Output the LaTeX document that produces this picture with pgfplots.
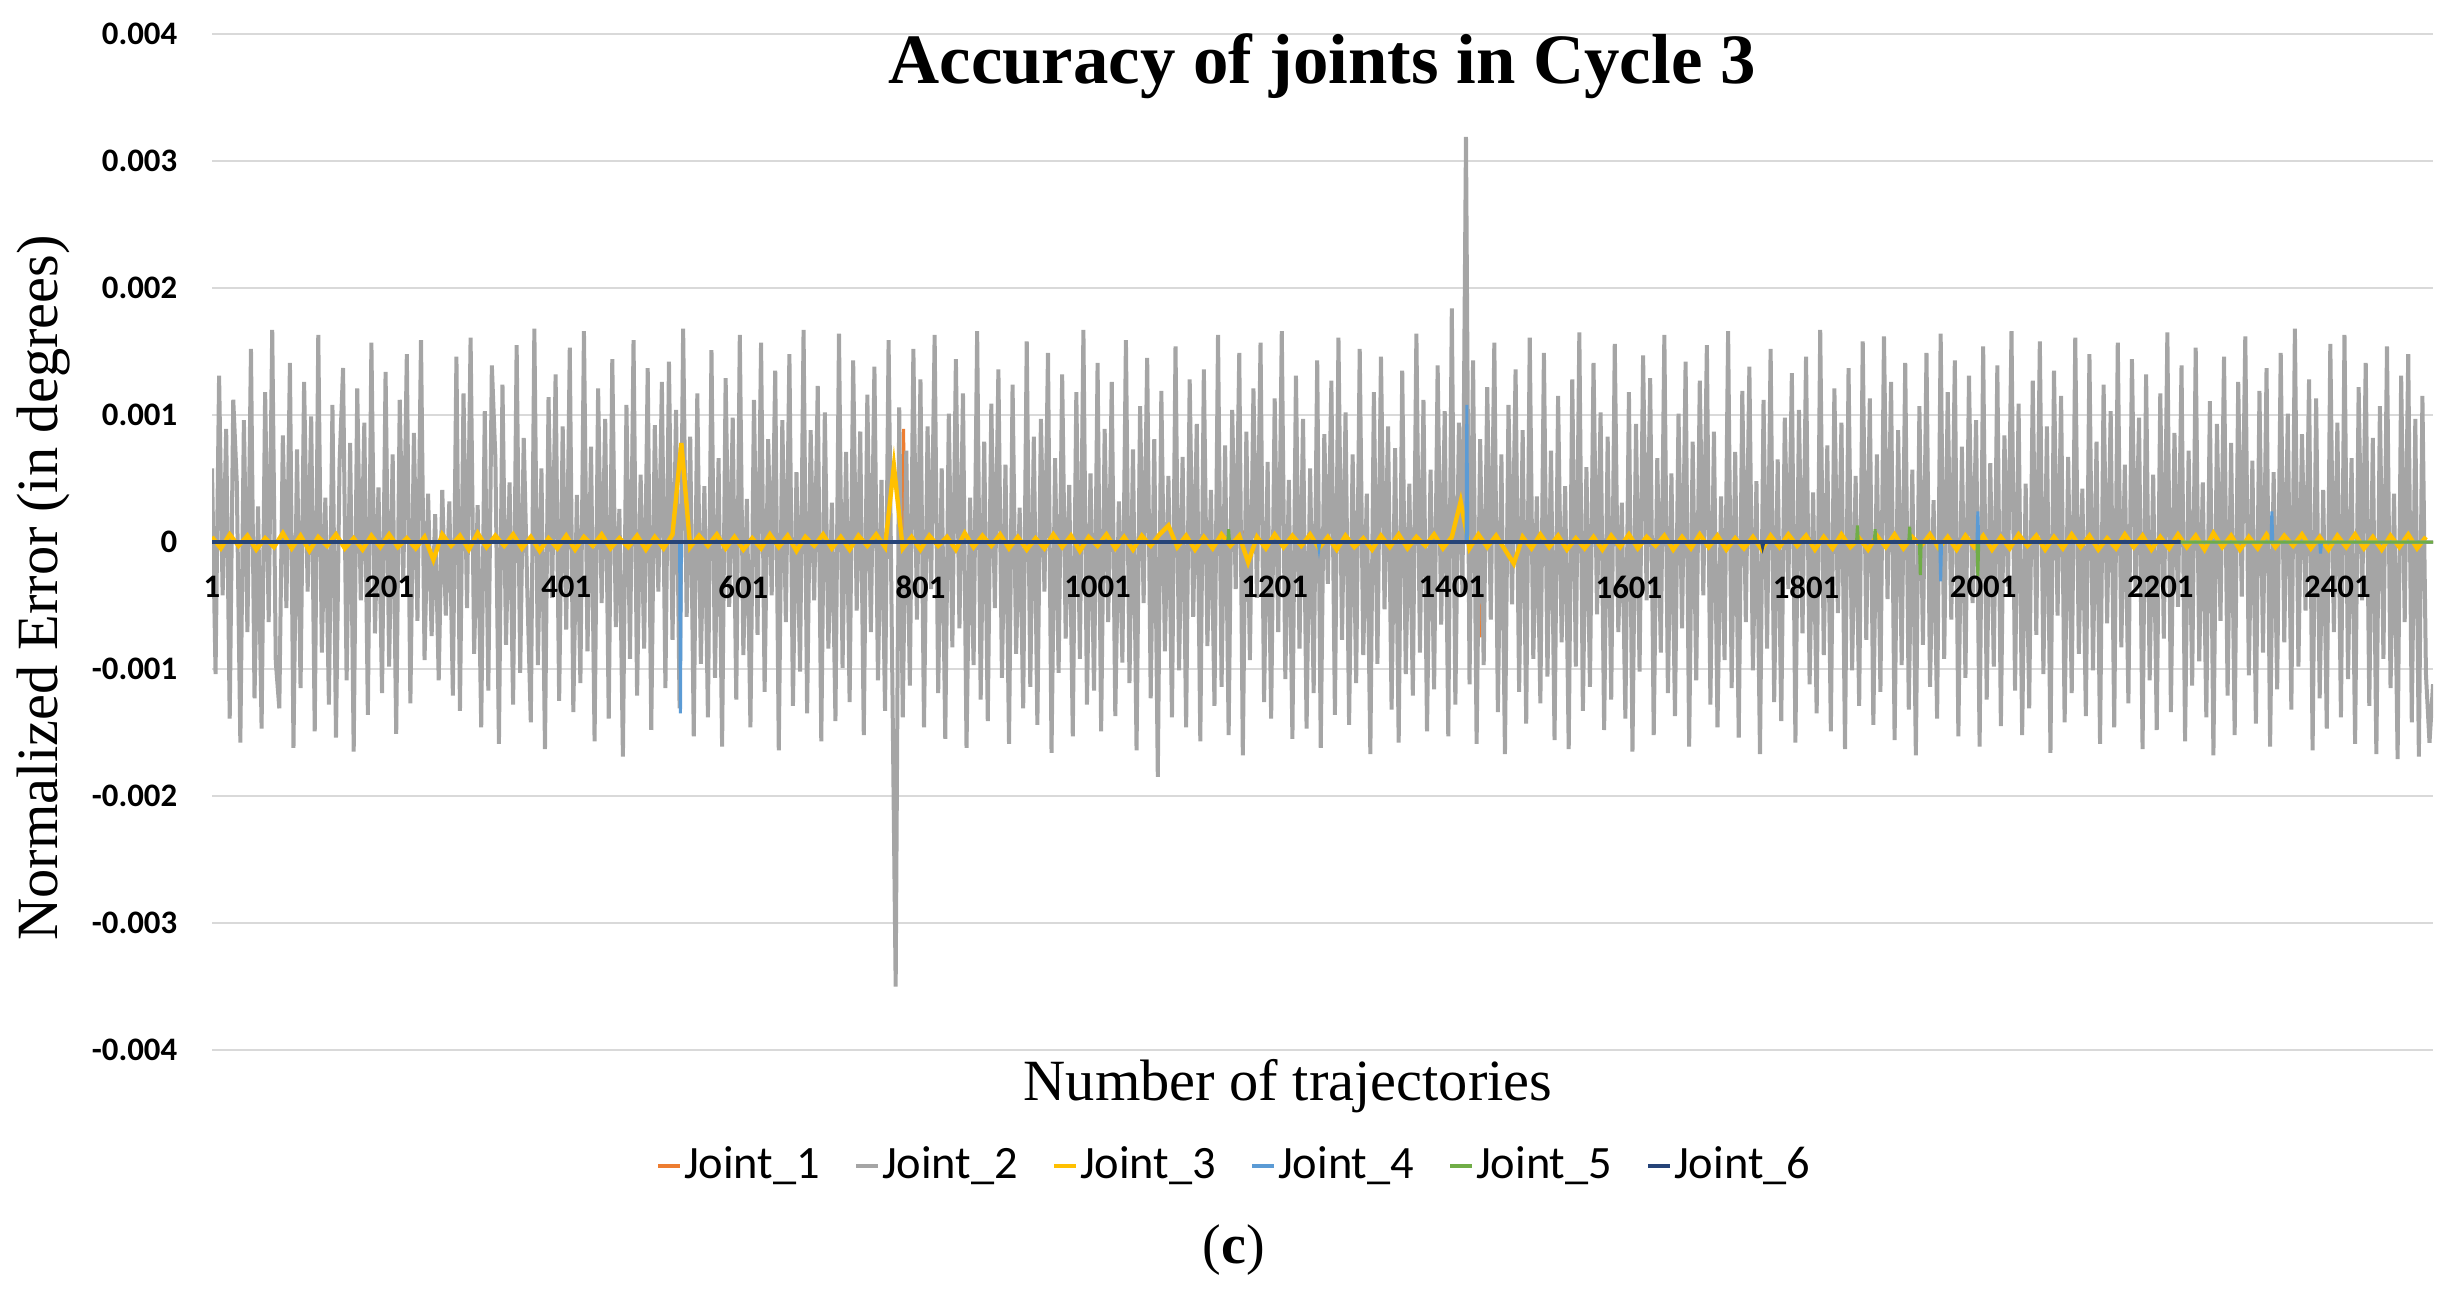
\documentclass[border=0pt]{standalone}
\usepackage{fontspec}
\setmainfont{Liberation Serif}
\newfontfamily\carlito{Carlito}
\usepackage{pgfplots}
\usepackage{pgfplotstable}
\pgfplotsset{compat=1.18}

\definecolor{jA}{HTML}{ED7D31}
\definecolor{jB}{HTML}{A5A5A5}
\definecolor{jC}{HTML}{FFC000}
\definecolor{jD}{HTML}{5B9BD5}
\definecolor{jE}{HTML}{70AD47}
\definecolor{jF}{HTML}{264478}
\definecolor{gridc}{HTML}{D9D9D9}

% shared frame of the plot area
\pgfplotsset{frame/.style={
    at={(53pt,62pt)}, anchor=south west,
    scale only axis, width=555.25pt, height=254pt,
    xmin=1, xmax=2509, ymin=-0.004, ymax=0.004,
    axis x line*=middle, axis y line*=left,
    axis line style={draw=none},
    hide obscured x ticks=false,
    major tick length=0pt,
    /pgf/number format/1000 sep={},
    /pgf/number format/assume math mode=true,
    tick label style={font=\carlito\bfseries\fontsize{8.2}{9}\selectfont, inner sep=0pt},
    yticklabel style={anchor=east, xshift=-8.5pt},
    xticklabel style={anchor=north, yshift=-8.25pt},
}}

% Joint_2, every 4th trajectory (x = 1, 5, 9, ...)
\pgfplotstableread[row sep=\\]{
y\\
0.00058\\ -0.00104\\ 0.00131\\ -0.00042\\ 0.00089\\ -0.00139\\ 0.00112\\ 0.00047\\ -0.00158\\ 0.00096\\
-0.00071\\ 0.00152\\ -0.00123\\ 0.00028\\ -0.00147\\ 0.00118\\ -0.00063\\ 0.00167\\ -0.00094\\ -0.00131\\
0.00084\\ -0.00052\\ 0.00141\\ -0.00162\\ 0.00073\\ -0.00115\\ 0.00126\\ -0.00039\\ 0.00099\\ -0.00149\\
0.00163\\ -0.00087\\ 0.00035\\ -0.00128\\ 0.00108\\ -0.00154\\ 0.00061\\ 0.00137\\ -0.00109\\ 0.00078\\
-0.00165\\ 0.00121\\ -0.00046\\ 0.00094\\ -0.00136\\ 0.00157\\ -0.00072\\ 0.00043\\ -0.00119\\ 0.00134\\
-0.00098\\ 0.00069\\ -0.00151\\ 0.00112\\ -0.00031\\ 0.00148\\ -0.00127\\ 0.00086\\ -0.00062\\ 0.00159\\
-0.00093\\ 0.00038\\ -0.00074\\ 0.00022\\ -0.00109\\ 0.00041\\ -0.00058\\ 0.00032\\ -0.00121\\ 0.00146\\
-0.00133\\ 0.00117\\ -0.00052\\ 0.00161\\ -0.00088\\ 0.00029\\ -0.00146\\ 0.00103\\ -0.00117\\ 0.00139\\
0.00066\\ -0.00159\\ 0.00124\\ -0.00081\\ 0.00047\\ -0.00128\\ 0.00155\\ -0.00103\\ 0.00082\\ -0.00037\\
-0.00142\\ 0.00168\\ -0.00097\\ 0.00058\\ -0.00163\\ 0.00114\\ -0.00044\\ 0.00132\\ -0.00125\\ 0.00091\\
-0.00069\\ 0.00153\\ -0.00134\\ 0.00037\\ -0.00111\\ 0.00166\\ -0.00086\\ 0.00075\\ -0.00157\\ 0.00121\\
-0.00048\\ 0.00097\\ -0.00139\\ 0.00144\\ -0.00067\\ 0.00026\\ -0.00169\\ 0.00108\\ -0.00092\\ 0.00159\\
-0.00121\\ 0.00053\\ -0.00084\\ 0.00137\\ -0.00148\\ 0.00092\\ -0.00039\\ 0.00126\\ -0.00115\\ 0.00142\\
-0.00077\\ 0.00104\\ -0.00131\\ 0.00168\\ -0.00059\\ 0.00083\\ -0.00153\\ 0.00117\\ -0.00096\\ 0.00044\\
-0.00138\\ 0.00151\\ -0.00107\\ 0.00066\\ -0.00161\\ 0.00129\\ -0.00051\\ 0.00098\\ -0.00124\\ 0.00163\\
-0.00089\\ 0.00034\\ -0.00146\\ 0.00112\\ -0.00073\\ 0.00157\\ -0.00118\\ 0.00081\\ -0.00042\\ 0.00135\\
-0.00164\\ 0.00096\\ -0.00063\\ 0.00148\\ -0.00129\\ 0.00055\\ -0.00102\\ 0.00167\\ -0.00135\\ 0.00088\\
-0.00046\\ 0.00123\\ -0.00157\\ 0.00102\\ -0.00084\\ 0.00031\\ -0.00141\\ 0.00164\\ -0.00099\\ 0.00071\\
-0.00126\\ 0.00143\\ -0.00054\\ 0.00087\\ -0.00152\\ 0.00116\\ -0.00071\\ 0.00138\\ -0.00109\\ 0.00049\\
-0.00133\\ 0.00159\\ -0.00094\\ -0.00350\\ 0.00106\\ -0.00138\\ 0.00072\\ -0.00113\\ 0.00152\\ -0.00061\\
0.00128\\ -0.00146\\ 0.00091\\ -0.00037\\ 0.00163\\ -0.00119\\ 0.00058\\ -0.00155\\ 0.00101\\ -0.00083\\
0.00144\\ -0.00068\\ 0.00117\\ -0.00162\\ 0.00035\\ -0.00097\\ 0.00166\\ -0.00124\\ 0.00079\\ -0.00141\\
0.00109\\ -0.00052\\ 0.00136\\ -0.00107\\ 0.00061\\ -0.00159\\ 0.00124\\ -0.00088\\ 0.00027\\ -0.00131\\
0.00158\\ -0.00114\\ 0.00083\\ -0.00144\\ 0.00097\\ -0.00039\\ 0.00149\\ -0.00166\\ 0.00066\\ -0.00103\\
0.00132\\ -0.00076\\ 0.00045\\ -0.00153\\ 0.00118\\ -0.00092\\ 0.00167\\ -0.00128\\ 0.00054\\ -0.00117\\
0.00141\\ -0.00149\\ 0.00089\\ -0.00063\\ 0.00126\\ -0.00137\\ 0.00032\\ -0.00095\\ 0.00159\\ -0.00111\\
0.00073\\ -0.00164\\ 0.00107\\ -0.00048\\ 0.00145\\ -0.00123\\ 0.00081\\ -0.00185\\ 0.00119\\ -0.00086\\
0.00052\\ -0.00138\\ 0.00154\\ -0.00101\\ 0.00067\\ -0.00146\\ 0.00128\\ -0.00059\\ 0.00093\\ -0.00157\\
0.00136\\ -0.00082\\ 0.00041\\ -0.00129\\ 0.00163\\ -0.00114\\ 0.00076\\ -0.00152\\ 0.00104\\ -0.00037\\
0.00149\\ -0.00168\\ 0.00087\\ -0.00093\\ 0.00121\\ -0.00044\\ 0.00157\\ -0.00126\\ 0.00063\\ -0.00139\\
0.00113\\ -0.00071\\ 0.00166\\ -0.00108\\ 0.00049\\ -0.00155\\ 0.00131\\ -0.00084\\ 0.00097\\ -0.00147\\
0.00058\\ -0.00119\\ 0.00143\\ -0.00162\\ 0.00085\\ -0.00033\\ 0.00127\\ -0.00136\\ 0.00161\\ -0.00077\\
0.00102\\ -0.00144\\ 0.00069\\ -0.00111\\ 0.00152\\ -0.00089\\ 0.00038\\ -0.00167\\ 0.00118\\ -0.00096\\
0.00146\\ -0.00053\\ 0.00091\\ -0.00132\\ 0.00074\\ -0.00158\\ 0.00135\\ -0.00104\\ 0.00046\\ -0.00121\\
0.00164\\ -0.00087\\ 0.00112\\ -0.00149\\ 0.00057\\ -0.00116\\ 0.00139\\ -0.00065\\ 0.00103\\ -0.00153\\
0.00184\\ -0.00128\\ 0.00094\\ -0.00041\\ 0.00319\\ -0.00112\\ 0.00143\\ -0.00159\\ 0.00081\\ -0.00097\\
0.00122\\ -0.00061\\ 0.00157\\ -0.00134\\ 0.00069\\ -0.00167\\ 0.00108\\ -0.00049\\ 0.00136\\ -0.00118\\
0.00088\\ -0.00143\\ 0.00161\\ -0.00092\\ 0.00036\\ -0.00127\\ 0.00149\\ -0.00106\\ 0.00072\\ -0.00156\\
0.00115\\ -0.00079\\ 0.00044\\ -0.00163\\ 0.00128\\ -0.00098\\ 0.00165\\ -0.00133\\ 0.00059\\ -0.00114\\
0.00141\\ -0.00057\\ 0.00102\\ -0.00148\\ 0.00083\\ -0.00124\\ 0.00156\\ -0.00071\\ 0.00031\\ -0.00139\\
0.00118\\ -0.00165\\ 0.00093\\ -0.00102\\ 0.00147\\ -0.00046\\ 0.00129\\ -0.00152\\ 0.00066\\ -0.00087\\
0.00163\\ -0.00119\\ 0.00054\\ -0.00137\\ 0.00101\\ -0.00068\\ 0.00142\\ -0.00161\\ 0.00079\\ -0.00109\\
0.00127\\ -0.00042\\ 0.00155\\ -0.00128\\ 0.00087\\ -0.00146\\ 0.00036\\ -0.00093\\ 0.00166\\ -0.00115\\
0.00071\\ -0.00154\\ 0.00119\\ -0.00063\\ 0.00138\\ -0.00101\\ 0.00048\\ -0.00167\\ 0.00112\\ -0.00084\\
0.00152\\ -0.00126\\ 0.00065\\ -0.00141\\ 0.00098\\ -0.00037\\ 0.00133\\ -0.00158\\ 0.00104\\ -0.00072\\
0.00146\\ -0.00112\\ 0.00039\\ -0.00135\\ 0.00167\\ -0.00089\\ 0.00076\\ -0.00149\\ 0.00121\\ -0.00056\\
0.00094\\ -0.00163\\ 0.00137\\ -0.00101\\ 0.00052\\ -0.00129\\ 0.00158\\ -0.00077\\ 0.00113\\ -0.00144\\
0.00069\\ -0.00118\\ 0.00162\\ -0.00045\\ 0.00126\\ -0.00156\\ 0.00088\\ -0.00097\\ 0.00141\\ -0.00132\\
0.00057\\ -0.00168\\ 0.00107\\ -0.00081\\ 0.00149\\ -0.00114\\ 0.00033\\ -0.00139\\ 0.00164\\ -0.00092\\
0.00118\\ -0.00061\\ 0.00143\\ -0.00153\\ 0.00075\\ -0.00107\\ 0.00131\\ -0.00048\\ 0.00096\\ -0.00161\\
0.00154\\ -0.00124\\ 0.00062\\ -0.00098\\ 0.00139\\ -0.00145\\ 0.00084\\ -0.00035\\ 0.00166\\ -0.00117\\
0.00109\\ -0.00152\\ 0.00046\\ -0.00131\\ 0.00127\\ -0.00073\\ 0.00158\\ -0.00104\\ 0.00091\\ -0.00166\\
0.00135\\ -0.00058\\ 0.00115\\ -0.00142\\ 0.00067\\ -0.00119\\ 0.00161\\ -0.00088\\ 0.00042\\ -0.00137\\
0.00148\\ -0.00101\\ 0.00079\\ -0.00159\\ 0.00124\\ -0.00064\\ 0.00103\\ -0.00146\\ 0.00157\\ -0.00083\\
0.00061\\ -0.00127\\ 0.00144\\ -0.00039\\ 0.00098\\ -0.00163\\ 0.00132\\ -0.00109\\ 0.00053\\ -0.00148\\
0.00117\\ -0.00076\\ 0.00165\\ -0.00134\\ 0.00086\\ -0.00051\\ 0.00139\\ -0.00157\\ 0.00072\\ -0.00113\\
0.00153\\ -0.00094\\ 0.00047\\ -0.00138\\ 0.00111\\ -0.00168\\ 0.00093\\ -0.00062\\ 0.00146\\ -0.00121\\
0.00078\\ -0.00152\\ 0.00126\\ -0.00043\\ 0.00162\\ -0.00105\\ 0.00064\\ -0.00143\\ 0.00119\\ -0.00087\\
0.00137\\ -0.00161\\ 0.00055\\ -0.00116\\ 0.00149\\ -0.00079\\ 0.00101\\ -0.00132\\ 0.00168\\ -0.00098\\
0.00085\\ -0.00054\\ 0.00128\\ -0.00164\\ 0.00113\\ -0.00123\\ 0.00041\\ -0.00147\\ 0.00156\\ -0.00071\\
0.00094\\ -0.00138\\ 0.00163\\ -0.00108\\ 0.00066\\ -0.00159\\ 0.00122\\ -0.00046\\ 0.00141\\ -0.00129\\
0.00082\\ -0.00167\\ 0.00107\\ -0.00092\\ 0.00154\\ -0.00115\\ 0.00038\\ -0.00171\\ 0.00131\\ -0.00063\\
0.00148\\ -0.00142\\ 0.00097\\ -0.00169\\ 0.00115\\ -0.00104\\ -0.00158\\ -0.00112\\
}\jointtwo

% Joint_3, every 10th trajectory (x = 1, 11, 21, ...)
\pgfplotstableread[row sep=\\]{
y\\
0.00004\\ -0.00005\\ 0.00006\\ -0.00003\\ 0.00005\\ -0.00006\\ 0.00003\\ -0.00004\\ 0.00007\\ -0.00005\\
0.00005\\ -0.00007\\ 0.00004\\ -0.00003\\ 0.00006\\ -0.00005\\ 0.00003\\ -0.00006\\ 0.00005\\ -0.00004\\
0.00006\\ -0.00004\\ 0.00003\\ -0.00005\\ 0.00004\\ -0.00014\\ 0.00006\\ -0.00003\\ 0.00005\\ -0.00006\\
0.00007\\ -0.00004\\ 0.00005\\ -0.00003\\ 0.00006\\ -0.00005\\ 0.00004\\ -0.00007\\ 0.00003\\ -0.00005\\
0.00005\\ -0.00006\\ 0.00004\\ -0.00003\\ 0.00006\\ -0.00005\\ 0.00003\\ -0.00004\\ 0.00005\\ -0.00006\\
0.00004\\ -0.00005\\ 0.00006\\ 0.00078\\ -0.00004\\ 0.00005\\ -0.00003\\ 0.00006\\ -0.00005\\ 0.00004\\
-0.00006\\ 0.00003\\ -0.00005\\ 0.00006\\ -0.00004\\ 0.00005\\ -0.00007\\ 0.00004\\ -0.00003\\ 0.00006\\
-0.00005\\ 0.00004\\ -0.00006\\ 0.00005\\ -0.00003\\ 0.00006\\ -0.00004\\ 0.00060\\ -0.00005\\ 0.00004\\
-0.00006\\ 0.00005\\ -0.00003\\ 0.00004\\ -0.00006\\ 0.00007\\ -0.00004\\ 0.00005\\ -0.00003\\ 0.00006\\
-0.00005\\ 0.00004\\ -0.00006\\ 0.00003\\ -0.00005\\ 0.00006\\ -0.00004\\ 0.00005\\ -0.00007\\ 0.00004\\
-0.00003\\ 0.00006\\ -0.00005\\ 0.00004\\ -0.00006\\ 0.00005\\ -0.00003\\ 0.00006\\ 0.00013\\ -0.00004\\
0.00005\\ -0.00006\\ 0.00004\\ -0.00005\\ 0.00006\\ -0.00003\\ 0.00005\\ -0.00016\\ 0.00004\\ -0.00005\\
0.00006\\ -0.00004\\ 0.00005\\ -0.00003\\ 0.00006\\ -0.00005\\ 0.00004\\ -0.00006\\ 0.00005\\ -0.00004\\
0.00003\\ -0.00006\\ 0.00005\\ -0.00004\\ 0.00006\\ -0.00005\\ 0.00004\\ -0.00003\\ 0.00006\\ -0.00005\\
0.00004\\ 0.00032\\ -0.00005\\ 0.00006\\ -0.00004\\ 0.00005\\ -0.00006\\ -0.00017\\ 0.00004\\ -0.00005\\
0.00006\\ -0.00004\\ 0.00005\\ -0.00006\\ 0.00003\\ -0.00005\\ 0.00004\\ -0.00006\\ 0.00005\\ -0.00004\\
0.00006\\ -0.00005\\ 0.00004\\ -0.00003\\ 0.00005\\ -0.00006\\ 0.00004\\ -0.00005\\ 0.00006\\ -0.00004\\
0.00005\\ -0.00006\\ 0.00003\\ -0.00005\\ 0.00004\\ -0.00006\\ 0.00005\\ -0.00004\\ 0.00006\\ -0.00003\\
0.00005\\ -0.00006\\ 0.00004\\ -0.00005\\ 0.00006\\ -0.00004\\ 0.00003\\ -0.00006\\ 0.00005\\ -0.00004\\
0.00006\\ -0.00005\\ 0.00004\\ -0.00003\\ 0.00006\\ -0.00005\\ 0.00004\\ -0.00006\\ 0.00005\\ -0.00004\\
0.00005\\ -0.00006\\ 0.00004\\ -0.00005\\ 0.00006\\ -0.00003\\ 0.00005\\ -0.00006\\ 0.00004\\ -0.00005\\
0.00006\\ -0.00004\\ 0.00005\\ -0.00006\\ 0.00003\\ -0.00005\\ 0.00006\\ -0.00004\\ 0.00005\\ -0.00006\\
0.00004\\ -0.00005\\ 0.00006\\ -0.00004\\ 0.00005\\ -0.00006\\ 0.00007\\ -0.00004\\ 0.00005\\ -0.00006\\
0.00004\\ -0.00005\\ 0.00006\\ -0.00004\\ 0.00005\\ -0.00003\\ 0.00006\\ -0.00005\\ 0.00004\\ -0.00006\\
0.00005\\ -0.00004\\ 0.00006\\ -0.00005\\ 0.00004\\ -0.00006\\ 0.00005\\ -0.00004\\ 0.00006\\ -0.00005\\
0.00004\\
}\jointthree

\begin{document}
\begin{tikzpicture}
\path[use as bounding box] (0,0) rectangle (614.75pt,324.5pt);
\begin{axis}[
    frame,
    xtick={1,201,...,2401}, xticklabels={},
    ytick={-0.004,-0.003,-0.002,-0.001,0,0.001,0.002,0.003,0.004},
    yticklabels={-0.004,-0.003,-0.002,-0.001,0,0.001,0.002,0.003,0.004},
    scaled y ticks=false,
    ymajorgrids, grid style={gridc, line width=0.6pt},
    every axis plot/.append style={line width=0.75pt},
    legend style={at={(0.4602,-0.1142)}, anchor=center, draw=none, fill=none,
      legend columns=6, font=\carlito\fontsize{11.6}{13}\selectfont,
      /tikz/every even column/.append style={column sep=8pt},
      inner sep=0pt, nodes={inner sep=0.5pt}},
    legend image code/.code={\draw[#1, line width=1.1pt] (0pt,0pt) -- (5.4pt,0pt);},
  ]
  \addplot[jA] coordinates {(1,0) (781,0) (782,0.00089) (783,0) (1164,0) (1165,0.00009) (1166,0)
    (1432,0) (1433,-0.00075) (1434,0) (2509,0)};
  \addlegendentry{Joint\_1}
  \addplot[jB, line width=1pt] table[x expr=\coordindex*4+1, y=y] {\jointtwo};
  \addlegendentry{Joint\_2}
  \addplot[jC, line width=1.1pt] table[x expr=\coordindex*10+1, y=y] {\jointthree};
  \addlegendentry{Joint\_3}
  \addplot[jD] coordinates {(1,0) (529,0) (530,-0.00135) (531,0) (1250,0) (1251,-0.00005) (1252,0)
    (1417,0) (1418,0.00108) (1419,0) (1952,0) (1953,-0.00031) (1954,0)
    (1994,0) (1995,0.00024) (1996,0) (2326,0) (2327,0.00024) (2328,0)
    (2381,0) (2382,-0.00009) (2383,0) (2509,0)};
  \addlegendentry{Joint\_4}
  \addplot[jE] coordinates {(1,0) (1148,0) (1149,0.0001) (1150,0) (1858,0) (1859,0.00013) (1860,0)
    (1878,0) (1879,0.0001) (1880,0) (1917,0) (1918,0.00012) (1919,0)
    (1929,0) (1930,-0.00026) (1931,0) (1994,0) (1995,-0.00027) (1996,0) (2509,0)};
  \addlegendentry{Joint\_5}
  \addplot[jF, line width=0.9pt] coordinates {(1,0) (1751,0) (1752,-0.00003) (1753,0) (2224,0)};
  \addlegendentry{Joint\_6}
\end{axis}
% second pass: category labels drawn over the data, as in the original
\begin{axis}[
    frame,
    xtick={1,201,...,2401}, ytick=\empty,
  ]
\end{axis}
\node[font=\bfseries\fontsize{17.7}{20}\selectfont] at (330.5pt,308pt) {Accuracy of joints in Cycle 3};
\node[rotate=90, font=\fontsize{14.6}{17}\selectfont] at (11pt,177.5pt) {Normalized Error (in degrees)};
\node[font=\fontsize{14.6}{17}\selectfont] at (322pt,53pt) {Number of trajectories};
\node[font=\fontsize{14}{16}\selectfont] at (308.5pt,12pt) {(\textbf{c})};
\end{tikzpicture}
\end{document}
